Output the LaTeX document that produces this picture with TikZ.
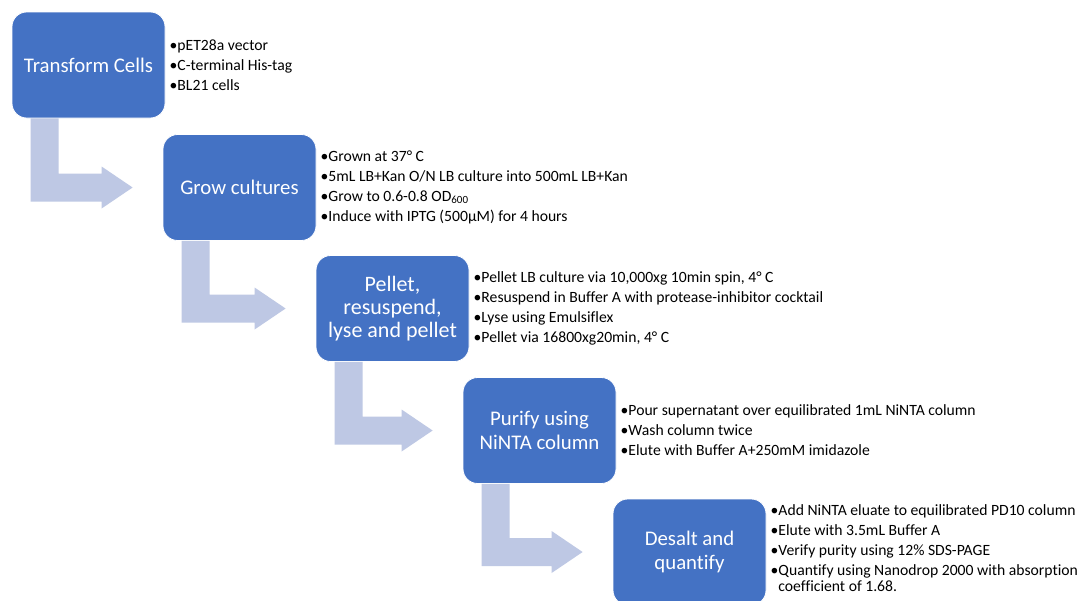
\documentclass[tikz,border=0pt]{standalone}
\usepackage{fontspec}
\setmainfont[Ligatures=NoCommon]{Carlito}
\usetikzlibrary{calc}
\definecolor{boxblue}{RGB}{68,114,196}
\definecolor{arrowblue}{RGB}{190,200,228}
\tikzset{
  stepbox/.style={draw=white, line width=0.6pt, fill=boxblue, rounded corners=11pt,
    minimum width=114.75pt, minimum height=79.5pt, text=white, align=center,
    font=\fontsize{15.6}{17.5}\selectfont, inner sep=2pt},
  bullets/.style={anchor=west, inner sep=0pt, align=left, text=black,
    font=\fontsize{11.75}{12.2}\selectfont},
  arrowfill/.style={fill=arrowblue}
}
\newcommand{\bl}{\textbullet}
\newcommand{\flowarrow}[2]{%
  \coordinate (t#1) at ($(#2.west)+(-30,0)$);
  \coordinate (a#1) at ($(#1.south west)+(19,0)$);
  \fill[arrowfill] (a#1) -- ++(28,0) -- ($(a#1 |- t#1)+(28,-14)$) -- ($(t#1)+(-31,-14)$)
    -- ($(t#1)+(-31,-21)$) -- (t#1) -- ($(t#1)+(-31,21)$) -- ($(t#1)+(-31,14)$)
    -- ($(a#1 |- t#1)+(0,14)$) -- cycle;
}
\begin{document}
\begin{tikzpicture}[x=0.75pt,y=-0.75pt]
\useasboundingbox (0,0) rectangle (1080,600);
\clip (0,0) rectangle (1080,600);
\fill[white] (0,0) rectangle (1080,600);

\node[stepbox] (b1) at (88.5,65) {Transform Cells};
\node[stepbox] (b2) at (239.5,187.5) {Grow cultures};
\node[stepbox, font=\fontsize{16.5}{17.5}\selectfont] (b3) at (392.5,308.5) {Pellet,\\resuspend,\\lyse and pellet};
\node[stepbox] (b4) at (539.5,430.5) {Purify using\\NiNTA column};
\node[stepbox, font=\fontsize{15.6}{18}\selectfont] (b5) at (689.5,552) {Desalt and\\quantify};

\flowarrow{b1}{b2}
\flowarrow{b2}{b3}
\flowarrow{b3}{b4}
\flowarrow{b4}{b5}

\node[bullets] (l1) at ($(b1.east)+(4,0)$) {\bl pET28a vector\\[2.8pt]\bl C-terminal His-tag\\[2.8pt]\bl BL21 cells};
\node[bullets] (l2) at ($(b2.east)+(4,0)$) {\bl Grown at 37° C\\[2.8pt]\bl 5mL LB+Kan O/N LB culture into 500mL LB+Kan\\[2.8pt]\bl Grow to 0.6-0.8 OD\textsubscript{600}\\[2.8pt]\bl Induce with IPTG (500µM) for 4 hours};
\node[bullets] (l3) at ($(b3.east)+(4,0)$) {\bl Pellet LB culture via 10,000xg 10min spin, 4° C\\[2.8pt]\bl Resuspend in Buffer A with protease-inhibitor cocktail\\[2.8pt]\bl Lyse using Emulsiflex\\[2.8pt]\bl Pellet via 16800xg20min, 4° C};
\node[bullets] (l4) at ($(b4.east)+(4,0)$) {\bl Pour supernatant over equilibrated 1mL NiNTA column\\[2.8pt]\bl Wash column twice\\[2.8pt]\bl Elute with Buffer A+250mM imidazole};
\node[bullets] (l5) at ($(b5.east)+(4,-4)$) {\bl Add NiNTA eluate to equilibrated PD10 column\\[2.8pt]\bl Elute with 3.5mL Buffer A\\[2.8pt]\bl Verify purity using 12\% SDS-PAGE\\[2.8pt]\bl Quantify using Nanodrop 2000 with absorption\\\phantom{\bl}coefficient of 1.68.};
\end{tikzpicture}
\end{document}
